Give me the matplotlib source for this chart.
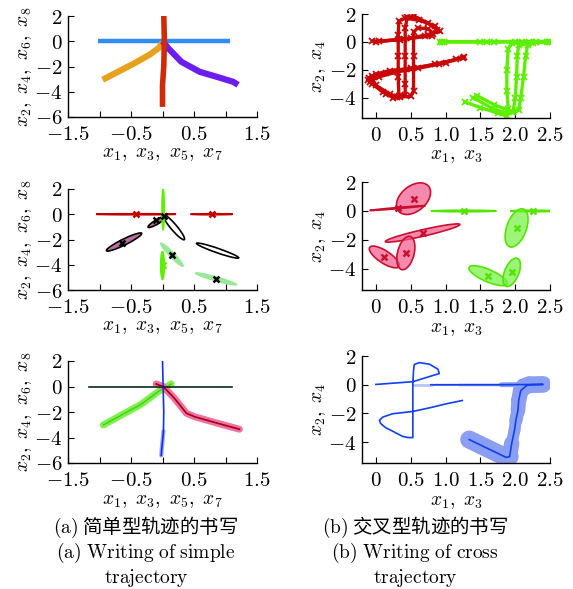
import numpy as np
import matplotlib
matplotlib.use('Agg')
import matplotlib.pyplot as plt
from matplotlib.patches import Ellipse
from matplotlib.collections import LineCollection

plt.rcParams['mathtext.fontset'] = 'cm'
plt.rcParams['font.family'] = ['DejaVu Serif']

# ---- simple trajectory, demonstrations (x1..x8) ----
blue_x = [-1.03, -0.5, 0.0, 0.5, 1.07]
blue_y = [0.0, 0.0, 0.0, 0.0, 0.0]
red_x = [0.02, 0.03, 0.02, 0.0, 0.0]
red_y = [2.1, 0.0, -2.0, -3.5, -5.2]
orange_x = [-0.95, -0.7, -0.46, -0.2, -0.05, 0.0]
orange_y = [-3.05, -2.4, -1.78, -1.05, -0.5, -0.1]
purple_x = [0.0, 0.1, 0.3, 0.59, 0.85, 1.12, 1.2]
purple_y = [0.0, -0.6, -1.63, -2.42, -2.8, -3.21, -3.45]

# ---- cross trajectory, demonstrations ----
c1_demo_x = [
    [-0.05, 0.35, 0.7, 0.92, 0.85, 0.62, 0.42, 0.33, 0.32, 0.32, 0.32, 0.33, 0.25, 0.1, -0.08, -0.1, 0.0, 0.2, 0.5, 0.85, 1.15],
    [0.0, 0.4, 0.75, 0.88, 0.75, 0.55, 0.45, 0.42, 0.42, 0.42, 0.42, 0.3, 0.15, -0.05, -0.12, -0.05, 0.15, 0.5, 0.9, 1.25],
    [0.05, 0.5, 0.8, 0.82, 0.75, 0.6, 0.54, 0.54, 0.54, 0.5, 0.35, 0.2, 0.0, -0.05, 0.05, 0.3, 0.6, 1.0, 1.27],
]
c1_demo_y = [
    [0.05, 0.15, 0.45, 0.75, 1.15, 1.55, 1.7, 1.5, 0.5, -1.0, -2.5, -3.9, -4.0, -3.6, -2.9, -2.55, -2.3, -2.05, -1.9, -1.6, -1.25],
    [0.0, 0.2, 0.5, 0.85, 1.35, 1.85, 1.75, 1.0, -1.0, -3.0, -3.8, -3.95, -3.7, -3.0, -2.7, -2.45, -2.2, -1.95, -1.55, -1.15],
    [0.05, 0.25, 0.45, 0.6, 0.95, 1.0, 0.7, -1.0, -3.5, -3.9, -3.95, -3.75, -3.1, -2.7, -2.5, -2.15, -1.9, -1.5, -1.05],
]
c2_demo_x = [
    [0.92, 1.5, 2.0, 2.48, 2.2, 1.95, 1.9, 1.88, 1.88, 1.9, 1.88, 1.75, 1.5, 1.28],
    [0.95, 1.6, 2.1, 2.45, 2.25, 2.05, 2.03, 2.02, 2.0, 1.97, 1.85, 1.65, 1.4],
    [0.98, 1.7, 2.3, 2.5, 2.3, 2.18, 2.15, 2.12, 2.08, 2.05, 1.95, 1.7, 1.45],
]
c2_demo_y = [
    [0.02, 0.02, 0.03, 0.03, 0.0, -0.1, -0.5, -2.0, -3.5, -4.8, -5.3, -5.1, -4.7, -4.3],
    [0.0, 0.0, 0.0, 0.0, -0.05, -0.25, -1.0, -2.5, -4.0, -5.0, -5.1, -4.7, -4.0],
    [0.02, 0.02, 0.02, 0.02, 0.0, -0.2, -1.0, -2.5, -4.0, -4.9, -5.0, -4.5, -3.85],
]

# ---- simple trajectory, Gaussian components ----
ml_red_mx = [-0.42, 0.78]
ml_red_my = [0.0, 0.0]
ml_red_sx = [0.635, 0.335]
ml_red_sy = [0.04, 0.04]
ml_green_mx = [0.01, 0.0]
ml_green_my = [0.4, -4.05]
ml_green_sx = [0.02, 0.03]
ml_green_sy = [1.65, 1.12]
ml_pale_mx = [0.15, 0.85]
ml_pale_my = [-3.21, -5.12]
ml_pale_sx = [0.18, 0.33]
ml_pale_sy = [0.93, 0.49]
ml_pale_rho = [-0.95, -0.93]
ml_open_mx = [0.18, 0.875]
ml_open_my = [-1.03, -2.88]
ml_open_sx = [0.17, 0.335]
ml_open_sy = [0.99, 0.6]
ml_open_rho = [-0.93, -0.95]
ml_mauve_mx = [-0.085, -0.61]
ml_mauve_my = [-0.6, -2.2]
ml_mauve_sx = [0.145, 0.28]
ml_mauve_sy = [0.45, 0.72]
ml_mauve_rho = [0.9, 0.93]
ml_black_cx = [-0.1, 0.03, -0.65, 0.15, 0.85]
ml_black_cy = [-0.49, -0.1, -2.29, -3.21, -5.12]

# ---- cross trajectory, Gaussian components ----
mr_red_mx = [0.54, 0.31, 0.67, 0.12, 0.43]
mr_red_my = [0.85, 0.2, -1.52, -3.17, -2.9]
mr_red_sx = [0.245, 0.4, 0.535, 0.215, 0.13]
mr_red_sy = [1.09, 0.17, 0.63, 0.75, 1.15]
mr_red_rho = [0.4, 0.97, 0.93, -0.75, 0.35]
mr_green_mx = [1.26, 2.25, 2.02, 1.61, 1.95]
mr_green_my = [0.0, 0.0, -1.17, -4.46, -4.23]
mr_green_sx = [0.47, 0.32, 0.165, 0.275, 0.125]
mr_green_sy = [0.05, 0.05, 1.32, 0.69, 0.98]
mr_green_rho = [0.0, 0.0, 0.45, -0.75, 0.5]

# ---- simple trajectory, reproduction ----
bl_dark_x = [-1.16, 0.0, 1.10]
bl_dark_y = [0.0, 0.0, 0.0]
bl_blue_x = [0.0, 0.01, 0.02, 0.015, -0.01, -0.02]
bl_blue_y = [2.05, 0.0, -2.0, -3.5, -4.8, -5.4]
bl_green_x = [-0.94, -0.34, -0.07, 0.14]
bl_green_y = [-3.02, -1.4, -0.41, 0.2]
bl_red_x = [-0.10, 0.01, 0.19, 0.38, 0.51, 0.88, 1.22]
bl_red_y = [0.2, 0.0, -0.93, -2.1, -2.37, -2.89, -3.35]

# ---- cross trajectory, reproduction ----
br1_x = [0.0, 0.53, 0.91, 0.89, 0.77, 0.62, 0.55, 0.54, 0.53, 0.53, 0.53, 0.53, 0.53, 0.46, 0.38, 0.29,
         0.14, 0.07, 0.05, 0.10, 0.24, 0.53, 0.77, 1.01, 1.24]
br1_y = [0.02, 0.21, 0.78, 1.08, 1.43, 1.54, 1.40, 0.97, 0.05, -1.10, -1.91, -2.94, -3.68, -3.68, -3.59,
         -3.36, -2.99, -2.71, -2.48, -2.25, -2.02, -1.86, -1.61, -1.33, -1.10]
br2_x = [0.79, 1.2, 1.8, 2.1, 2.40, 2.2, 2.16, 2.08, 2.05, 2.04, 2.01, 1.99, 1.95, 1.92, 1.87, 1.34]
br2_y = [0.0, 0.0, 0.0, 0.01, 0.02, 0.0, -0.07, -0.41, -1.1, -1.79, -2.48, -3.17, -4.09, -5.01, -5.06, -3.82]
br2_spread = [0.01, 0.015, 0.02, 0.05, 0.12, 0.12, 0.12, 0.11, 0.11, 0.10, 0.09, 0.08, 0.09, 0.13, 0.13, 0.13]
br_fade_x = [0.55, 0.79]
br_fade_y = [0.0, 0.0]

DPI = 100
fig = plt.figure(figsize=(5.73, 5.89), dpi=DPI)


def gauss_ellipse(ax, mx, my, sx, sy, rho, **kw):
    cov = np.array([[sx * sx, rho * sx * sy], [rho * sx * sy, sy * sy]])
    vals, vecs = np.linalg.eigh(cov)
    angle = np.degrees(np.arctan2(vecs[1, 1], vecs[0, 1]))
    e = Ellipse((mx, my), 2 * np.sqrt(vals[1]), 2 * np.sqrt(max(vals[0], 1e-8)),
                angle=angle, **kw)
    ax.add_patch(e)


def style(ax, left):
    if left:
        ax.set_xlim(-1.5, 1.5)
        ax.set_ylim(-6, 2)
        ax.set_xticks(np.arange(-1.5, 1.51, 0.5))
        ax.set_xticklabels([r'$-1.5$', '', r'$-0.5$', '', r'$0.5$', '', r'$1.5$'])
        ax.set_yticks([-6, -4, -2, 0, 2])
        ax.set_yticklabels([r'$-6$', r'$-4$', r'$-2$', r'$0$', r'$2$'])
        ax.set_xlabel(r'$x_1,\ x_3,\ x_5,\ x_7$', fontsize=14)
        ax.set_ylabel(r'$x_2,\ x_4,\ x_6,\ x_8$', fontsize=14)
    else:
        ax.set_xlim(-0.2, 2.5)
        ax.set_ylim(-5.45, 2)
        ax.set_xticks(np.arange(0, 2.51, 0.5))
        ax.set_xticklabels([r'$0$', r'$0.5$', r'$1.0$', r'$1.5$', r'$2.0$', r'$2.5$'])
        ax.set_yticks([-4, -2, 0, 2])
        ax.set_yticklabels([r'$-4$', r'$-2$', r'$0$', r'$2$'])
        ax.set_xlabel(r'$x_1,\ x_3$', fontsize=14)
        ax.set_ylabel(r'$x_2,\ x_4$', fontsize=14)
    ax.spines[['top', 'right']].set_visible(False)
    ax.spines[['left', 'bottom']].set_linewidth(1.0)
    ax.tick_params(direction='in', length=4, width=0.8, labelsize=15, pad=4)
    ax.tick_params(axis='x', pad=6)
    ax.xaxis.set_label_coords(0.5, -0.28)
    ax.yaxis.set_label_coords(-0.18, 0.5)


W, H = 573.0, 589.0
def box(x0, y0, x1, y1):
    return [x0 / W, 1 - y1 / H, (x1 - x0) / W, (y1 - y0) / H]

ax_tl = fig.add_axes(box(68, 16, 257, 117))
ax_tr = fig.add_axes(box(362, 14, 550, 118))
ax_ml = fig.add_axes(box(68, 189, 257, 290))
ax_mr = fig.add_axes(box(362, 182, 550, 290))
ax_bl = fig.add_axes(box(68, 361, 257, 463))
ax_br = fig.add_axes(box(362, 356, 550, 463))

# top left: demonstrations of the simple trajectory
ax_tl.plot(blue_x, blue_y, color='#2f8cf0', lw=3.2, solid_capstyle='butt')
ax_tl.plot(orange_x, orange_y, color='#e6a21e', lw=4.5, solid_capstyle='butt')
ax_tl.plot(purple_x, purple_y, color='#6a1ef0', lw=4.5, solid_capstyle='butt')
ax_tl.plot(red_x, red_y, color='#d02a08', lw=4.0, solid_capstyle='butt')
style(ax_tl, True)

# top right: demonstrations of the cross trajectory
for xs, ys in zip(c1_demo_x, c1_demo_y):
    ax_tr.plot(xs, ys, color='#c80808', lw=2.4, marker='x', ms=4, mew=1.3)
for xs, ys in zip(c2_demo_x, c2_demo_y):
    ax_tr.plot(xs, ys, color='#5cf000', lw=2.4, marker='x', ms=4, mew=1.3)
style(ax_tr, False)

# middle left: GMM of the simple trajectory
for mx, my, sx, sy in zip(ml_red_mx, ml_red_my, ml_red_sx, ml_red_sy):
    gauss_ellipse(ax_ml, mx, my, sx, sy, 0.0, fc='#c00000', ec='#c00000', lw=1.2)
for mx, my, sx, sy, r in zip(ml_pale_mx, ml_pale_my, ml_pale_sx, ml_pale_sy, ml_pale_rho):
    gauss_ellipse(ax_ml, mx, my, sx, sy, r, fc='#98e898', ec='#98e898', lw=0.8)
for mx, my, sx, sy, r in zip(ml_open_mx, ml_open_my, ml_open_sx, ml_open_sy, ml_open_rho):
    gauss_ellipse(ax_ml, mx, my, sx, sy, r, fc='none', ec='black', lw=1.2)
for mx, my, sx, sy, r in zip(ml_mauve_mx, ml_mauve_my, ml_mauve_sx, ml_mauve_sy, ml_mauve_rho):
    gauss_ellipse(ax_ml, mx, my, sx, sy, r, fc='#b8709c', ec='black', lw=1.2)
for mx, my, sx, sy in zip(ml_green_mx, ml_green_my, ml_green_sx, ml_green_sy):
    gauss_ellipse(ax_ml, mx, my, sx, sy, 0.0, fc='#5ef000', ec='#5ef000', lw=1.0)
ax_ml.plot(ml_red_mx, ml_red_my, 'x', color='#c00000', ms=5, mew=1.8)
ax_ml.plot(ml_green_mx[1:], ml_green_my[1:], 'x', color='#5ef000', ms=5, mew=1.8)
ax_ml.plot(ml_black_cx, ml_black_cy, 'x', color='black', ms=5, mew=1.8)
style(ax_ml, True)

# middle right: GMM of the cross trajectory
for mx, my, sx, sy, r in zip(mr_red_mx, mr_red_my, mr_red_sx, mr_red_sy, mr_red_rho):
    gauss_ellipse(ax_mr, mx, my, sx, sy, r, fc=(0.95, 0.35, 0.55, 0.7), ec='#c8102e', lw=1.2)
for mx, my, sx, sy, r in zip(mr_green_mx, mr_green_my, mr_green_sx, mr_green_sy, mr_green_rho):
    gauss_ellipse(ax_mr, mx, my, sx, sy, r, fc=(0.45, 0.94, 0.25, 0.7), ec='#55e400', lw=1.2)
ax_mr.plot(mr_red_mx, mr_red_my, 'x', color='#c8102e', ms=5, mew=1.8)
ax_mr.plot(mr_green_mx, mr_green_my, 'x', color='#55e400', ms=5, mew=1.8)
style(ax_mr, False)

# bottom left: GMR reproduction of the simple trajectory
ax_bl.plot(bl_green_x, bl_green_y, color='#80f050', lw=5, solid_capstyle='round')
ax_bl.plot(bl_green_x, bl_green_y, color='#40d010', lw=1.0)
ax_bl.plot(bl_red_x, bl_red_y, color='#f070a0', lw=5, solid_capstyle='round')
ax_bl.plot(bl_red_x, bl_red_y, color='#a00018', lw=1.2)
ax_bl.plot(bl_blue_x[3:], bl_blue_y[3:], color='#9aa8f8', lw=3, solid_capstyle='round')
ax_bl.plot(bl_blue_x, bl_blue_y, color='#1030f0', lw=1.2)
ax_bl.plot(bl_dark_x, bl_dark_y, color='#0c2a1c', lw=1.2)
style(ax_bl, True)

# bottom right: GMR reproduction of the cross trajectory, with its spread
style(ax_br, False)
fig.canvas.draw()
p0 = ax_br.transData.transform((0, 0))
p1 = ax_br.transData.transform((1, 0))
pt_per_unit = (p1[0] - p0[0]) * 72.0 / DPI
pts = np.column_stack([br2_x, br2_y])
segs = np.stack([pts[:-1], pts[1:]], axis=1)
spread = np.asarray(br2_spread)
widths = (spread[:-1] + spread[1:]) * pt_per_unit
ax_br.add_collection(LineCollection(segs, linewidths=widths, colors='#8a9ef2', capstyle='round',
                                    joinstyle='round'))
ax_br.plot(br_fade_x, br_fade_y, color='#b8c4f8', lw=2.0)
ax_br.plot(br1_x, br1_y, color='#1040f0', lw=1.2)
ax_br.plot(br2_x, br2_y, color='#1040f0', lw=1.2)

# sub-captions
cap = dict(ha='center', va='center', fontsize=14)
fig.text(146 / W, 1 - 527 / H, r'$\mathrm{(a)}$ 简单型轨迹的书写', family=['Noto Sans CJK SC'], **cap)
fig.text(146 / W, 1 - 553 / H, r'$\mathrm{(a)\ Writing\ of\ simple}$', **cap)
fig.text(146 / W, 1 - 578 / H, r'$\mathrm{trajectory}$', **cap)
fig.text(415 / W, 1 - 527 / H, r'$\mathrm{(b)}$ 交叉型轨迹的书写', family=['Noto Sans CJK SC'], **cap)
fig.text(415 / W, 1 - 553 / H, r'$\mathrm{(b)\ Writing\ of\ cross}$', **cap)
fig.text(415 / W, 1 - 578 / H, r'$\mathrm{trajectory}$', **cap)

fig.savefig('out.png', dpi=DPI)
